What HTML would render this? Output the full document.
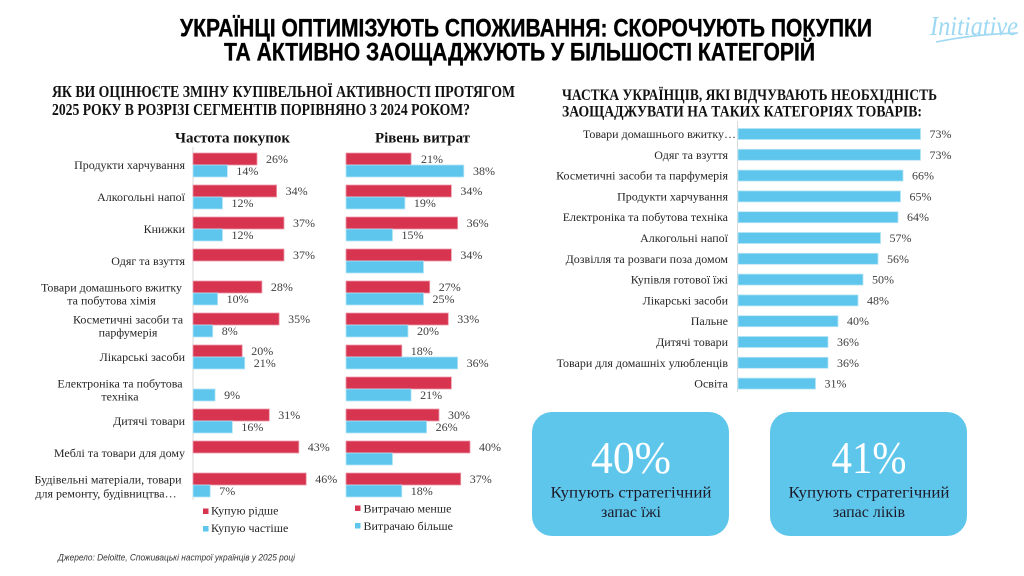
<!DOCTYPE html>
<html>
<head>
<meta charset="utf-8">
<style>
html,body{margin:0;padding:0;background:#fff;}
svg{display:block;}
.t{font-family:"Liberation Sans",Arial,sans-serif;font-weight:bold;fill:#000;stroke:#000;stroke-width:0.35;}
.st{font-family:"Liberation Serif",serif;font-weight:bold;fill:#111;}
.c{font-family:"Liberation Serif",serif;font-size:12px;fill:#262626;}
.v{font-family:"Liberation Serif",serif;font-size:12px;fill:#404040;}
.h{font-family:"Liberation Serif",serif;font-size:15px;font-weight:bold;fill:#111;}
.r{fill:#D7344F;stroke:#EE9AAA;stroke-width:0.8;}
.b{fill:#5EC6EC;stroke:#B5E4F6;stroke-width:0.8;}
.rb{fill:#5EC6EC;stroke:#B5E4F6;stroke-width:0.8;}
</style>
</head>
<body>
<svg width="1024" height="576" viewBox="0 0 1024 576" xmlns="http://www.w3.org/2000/svg">
<rect width="1024" height="576" fill="#fff"/>

<!-- Title -->
<text class="t" x="180" y="36.5" font-size="25" textLength="692" lengthAdjust="spacingAndGlyphs">УКРАЇНЦІ ОПТИМІЗУЮТЬ СПОЖИВАННЯ: СКОРОЧУЮТЬ ПОКУПКИ</text>
<text class="t" x="224" y="60.5" font-size="25" textLength="591" lengthAdjust="spacingAndGlyphs">ТА АКТИВНО ЗАОЩАДЖУЮТЬ У БІЛЬШОСТІ КАТЕГОРІЙ</text>

<!-- Logo -->
<text x="974" y="35" text-anchor="middle" font-family="'Liberation Serif',serif" font-style="italic" font-size="27" fill="#9ED8F2" textLength="88" lengthAdjust="spacingAndGlyphs">Initiative</text>
<path d="M936 42 Q975 34 1018 33" stroke="#9ED8F2" stroke-width="1.6" fill="none"/>

<!-- Subtitles -->
<text class="st" x="52" y="97" font-size="17" textLength="463" lengthAdjust="spacingAndGlyphs">ЯК ВИ ОЦІНЮЄТЕ ЗМІНУ КУПІВЕЛЬНОЇ АКТИВНОСТІ ПРОТЯГОМ</text>
<text class="st" x="52" y="115" font-size="17" textLength="418" lengthAdjust="spacingAndGlyphs">2025 РОКУ В РОЗРІЗІ СЕГМЕНТІВ ПОРІВНЯНО З 2024 РОКОМ?</text>
<text class="st" x="562" y="100" font-size="16" textLength="375" lengthAdjust="spacingAndGlyphs">ЧАСТКА УКРАЇНЦІВ, ЯКІ ВІДЧУВАЮТЬ НЕОБХІДНІСТЬ</text>
<text class="st" x="562" y="116.5" font-size="16" textLength="360" lengthAdjust="spacingAndGlyphs">ЗАОЩАДЖУВАТИ НА ТАКИХ КАТЕГОРІЯХ ТОВАРІВ:</text>

<!-- Left chart headers -->
<text class="h" x="175" y="142.5" textLength="115" lengthAdjust="spacingAndGlyphs">Частота покупок</text>
<text class="h" x="375" y="142.5" textLength="95" lengthAdjust="spacingAndGlyphs">Рівень витрат</text>

<!-- Left axis -->
<line x1="193" y1="147" x2="193" y2="500" stroke="#D9D9D9" stroke-width="1"/>

<!-- Category labels (left) -->
<text class="c" x="185" y="169" text-anchor="end">Продукти харчування</text>
<text class="c" x="185" y="201" text-anchor="end">Алкогольні напої</text>
<text class="c" x="185" y="233" text-anchor="end">Книжки</text>
<text class="c" x="185" y="265" text-anchor="end">Одяг та взуття</text>
<text class="c" x="111.5" y="291.3" text-anchor="middle">Товари домашнього вжитку</text>
<text class="c" x="111.5" y="304.7" text-anchor="middle">та побутова хімія</text>
<text class="c" x="128" y="323.3" text-anchor="middle">Косметичні засоби та</text>
<text class="c" x="128" y="336.7" text-anchor="middle">парфумерія</text>
<text class="c" x="185" y="361" text-anchor="end">Лікарські засоби</text>
<text class="c" x="120" y="387.3" text-anchor="middle">Електроніка та побутова</text>
<text class="c" x="120" y="400.7" text-anchor="middle">техніка</text>
<text class="c" x="185" y="425" text-anchor="end">Дитячі товари</text>
<text class="c" x="185" y="457" text-anchor="end">Меблі та товари для дому</text>
<text class="c" x="108" y="483.3" text-anchor="middle">Будівельні матеріали, товари</text>
<text class="c" x="106" y="497.3" text-anchor="middle">для ремонту, будівництва…</text>

<!-- Частота покупок bars -->
<rect class="r" x="193" y="153" width="64" height="12"/><rect class="b" x="193" y="165" width="34.4" height="12"/>
<text class="v" x="266" y="163">26%</text><text class="v" x="236.4" y="175">14%</text>

<rect class="r" x="193" y="185" width="83.6" height="12"/><rect class="b" x="193" y="197" width="29.5" height="12"/>
<text class="v" x="285.6" y="195">34%</text><text class="v" x="231.5" y="207">12%</text>

<rect class="r" x="193" y="217" width="91" height="12"/><rect class="b" x="193" y="229" width="29.5" height="12"/>
<text class="v" x="293" y="227">37%</text><text class="v" x="231.5" y="239">12%</text>

<rect class="r" x="193" y="249" width="91" height="12"/>
<text class="v" x="293" y="259">37%</text>

<rect class="r" x="193" y="281" width="68.9" height="12"/><rect class="b" x="193" y="293" width="24.6" height="12"/>
<text class="v" x="270.9" y="291">28%</text><text class="v" x="226.6" y="303">10%</text>

<rect class="r" x="193" y="313" width="86.1" height="12"/><rect class="b" x="193" y="325" width="19.7" height="12"/>
<text class="v" x="288.1" y="323">35%</text><text class="v" x="221.7" y="335">8%</text>

<rect class="r" x="193" y="345" width="49.2" height="12"/><rect class="b" x="193" y="357" width="51.7" height="12"/>
<text class="v" x="251.2" y="355">20%</text><text class="v" x="253.7" y="367">21%</text>

<rect class="b" x="193" y="389" width="22.1" height="12"/>
<text class="v" x="224.1" y="399">9%</text>

<rect class="r" x="193" y="409" width="76.3" height="12"/><rect class="b" x="193" y="421" width="39.4" height="12"/>
<text class="v" x="278.3" y="419">31%</text><text class="v" x="241.4" y="431">16%</text>

<rect class="r" x="193" y="441" width="105.8" height="12"/>
<text class="v" x="307.8" y="451">43%</text>

<rect class="r" x="193" y="473" width="113.2" height="12"/><rect class="b" x="193" y="485" width="17.2" height="12"/>
<text class="v" x="315.2" y="483">46%</text><text class="v" x="219.2" y="495">7%</text>

<!-- Рівень витрат bars -->
<rect class="r" x="346" y="153" width="65.1" height="12"/><rect class="b" x="346" y="165" width="117.8" height="12"/>
<text class="v" x="421" y="163">21%</text><text class="v" x="473" y="175">38%</text>

<rect class="r" x="346" y="185" width="105.4" height="12"/><rect class="b" x="346" y="197" width="58.9" height="12"/>
<text class="v" x="460.4" y="195">34%</text><text class="v" x="413.9" y="207">19%</text>

<rect class="r" x="346" y="217" width="111.6" height="12"/><rect class="b" x="346" y="229" width="46.5" height="12"/>
<text class="v" x="466.6" y="227">36%</text><text class="v" x="401.5" y="239">15%</text>

<rect class="r" x="346" y="249" width="105.4" height="12"/><rect class="b" x="346" y="261" width="77.5" height="12"/>
<text class="v" x="460.4" y="259">34%</text>

<rect class="r" x="346" y="281" width="83.7" height="12"/><rect class="b" x="346" y="293" width="77.5" height="12"/>
<text class="v" x="438.7" y="291">27%</text><text class="v" x="432.5" y="303">25%</text>

<rect class="r" x="346" y="313" width="102.3" height="12"/><rect class="b" x="346" y="325" width="62" height="12"/>
<text class="v" x="457.3" y="323">33%</text><text class="v" x="417" y="335">20%</text>

<rect class="r" x="346" y="345" width="55.8" height="12"/><rect class="b" x="346" y="357" width="111.6" height="12"/>
<text class="v" x="410.8" y="355">18%</text><text class="v" x="466.6" y="367">36%</text>

<rect class="r" x="346" y="377" width="105.4" height="12"/><rect class="b" x="346" y="389" width="65.1" height="12"/>
<text class="v" x="420.1" y="399">21%</text>

<rect class="r" x="346" y="409" width="93" height="12"/><rect class="b" x="346" y="421" width="80.6" height="12"/>
<text class="v" x="448" y="419">30%</text><text class="v" x="435.6" y="431">26%</text>

<rect class="r" x="346" y="441" width="124" height="12"/><rect class="b" x="346" y="453" width="46.5" height="12"/>
<text class="v" x="479" y="451">40%</text>

<rect class="r" x="346" y="473" width="114.7" height="12"/><rect class="b" x="346" y="485" width="55.8" height="12"/>
<text class="v" x="469.7" y="483">37%</text><text class="v" x="410.8" y="495">18%</text>

<!-- Legends -->
<rect x="203" y="508.5" width="5.5" height="5.5" fill="#D7344F"/>
<text class="c" x="211" y="514.5">Купую рідше</text>
<rect x="203" y="526" width="5.5" height="5.5" fill="#5EC6EC"/>
<text class="c" x="211" y="532">Купую частіше</text>
<rect x="355" y="505.5" width="5.5" height="5.5" fill="#D7344F"/>
<text class="c" x="363.5" y="512.5">Витрачаю менше</text>
<rect x="355" y="523" width="5.5" height="5.5" fill="#5EC6EC"/>
<text class="c" x="363.5" y="530">Витрачаю більше</text>

<!-- Source -->
<text x="58" y="560.5" font-family="'Liberation Sans',sans-serif" font-style="italic" font-size="9" fill="#333" textLength="237" lengthAdjust="spacingAndGlyphs">Джерело: Deloitte, Споживацькі настрої українців у 2025 році</text>

<!-- Right chart -->
<line x1="737.5" y1="121" x2="737.5" y2="392" stroke="#D9D9D9" stroke-width="1"/>

<text class="c" x="736" y="138" text-anchor="end">Товари домашнього вжитку…</text>
<text class="c" x="728" y="158.8" text-anchor="end">Одяг та взуття</text>
<text class="c" x="728" y="179.6" text-anchor="end">Косметичні засоби та парфумерія</text>
<text class="c" x="728" y="200.4" text-anchor="end">Продукти харчування</text>
<text class="c" x="728" y="221.2" text-anchor="end">Електроніка та побутова техніка</text>
<text class="c" x="728" y="242" text-anchor="end">Алкогольні напої</text>
<text class="c" x="728" y="262.8" text-anchor="end">Дозвілля та розваги поза домом</text>
<text class="c" x="728" y="283.6" text-anchor="end">Купівля готової їжі</text>
<text class="c" x="728" y="304.4" text-anchor="end">Лікарські засоби</text>
<text class="c" x="728" y="325.2" text-anchor="end">Пальне</text>
<text class="c" x="728" y="346" text-anchor="end">Дитячі товари</text>
<text class="c" x="728" y="366.8" text-anchor="end">Товари для домашніх улюбленців</text>
<text class="c" x="728" y="387.6" text-anchor="end">Освіта</text>

<rect class="rb" x="738" y="128.5" width="182.5" height="11"/><text class="v" x="929.5" y="138">73%</text>
<rect class="rb" x="738" y="149.3" width="182.5" height="11"/><text class="v" x="929.5" y="158.8">73%</text>
<rect class="rb" x="738" y="170.1" width="165" height="11"/><text class="v" x="912" y="179.6">66%</text>
<rect class="rb" x="738" y="190.9" width="162.5" height="11"/><text class="v" x="909.5" y="200.4">65%</text>
<rect class="rb" x="738" y="211.7" width="160" height="11"/><text class="v" x="907" y="221.2">64%</text>
<rect class="rb" x="738" y="232.5" width="142.5" height="11"/><text class="v" x="889.5" y="242">57%</text>
<rect class="rb" x="738" y="253.3" width="140" height="11"/><text class="v" x="887" y="262.8">56%</text>
<rect class="rb" x="738" y="274.1" width="125" height="11"/><text class="v" x="872" y="283.6">50%</text>
<rect class="rb" x="738" y="294.9" width="120" height="11"/><text class="v" x="867" y="304.4">48%</text>
<rect class="rb" x="738" y="315.7" width="100" height="11"/><text class="v" x="847" y="325.2">40%</text>
<rect class="rb" x="738" y="336.5" width="90" height="11"/><text class="v" x="837" y="346">36%</text>
<rect class="rb" x="738" y="357.3" width="90" height="11"/><text class="v" x="837" y="366.8">36%</text>
<rect class="rb" x="738" y="378.1" width="77.5" height="11"/><text class="v" x="824.5" y="387.6">31%</text>

<!-- Boxes -->
<rect x="532" y="412" width="197" height="124" rx="20" ry="20" fill="#5FC6EB"/>
<text x="631" y="473" text-anchor="middle" font-family="'Liberation Serif',serif" font-size="46" fill="#fff" textLength="80" lengthAdjust="spacingAndGlyphs">40%</text>
<text x="631" y="497.5" text-anchor="middle" font-family="'Liberation Serif',serif" font-size="16" fill="#1B1B2A" textLength="161" lengthAdjust="spacingAndGlyphs">Купують стратегічний</text>
<text x="631" y="517" text-anchor="middle" font-family="'Liberation Serif',serif" font-size="16" fill="#1B1B2A">запас їжі</text>

<rect x="770" y="412" width="197" height="124" rx="20" ry="20" fill="#5FC6EB"/>
<text x="869" y="473" text-anchor="middle" font-family="'Liberation Serif',serif" font-size="46" fill="#fff" textLength="75" lengthAdjust="spacingAndGlyphs">41%</text>
<text x="869" y="497.5" text-anchor="middle" font-family="'Liberation Serif',serif" font-size="16" fill="#1B1B2A" textLength="161" lengthAdjust="spacingAndGlyphs">Купують стратегічний</text>
<text x="869" y="517" text-anchor="middle" font-family="'Liberation Serif',serif" font-size="16" fill="#1B1B2A">запас ліків</text>
</svg>
</body>
</html>
